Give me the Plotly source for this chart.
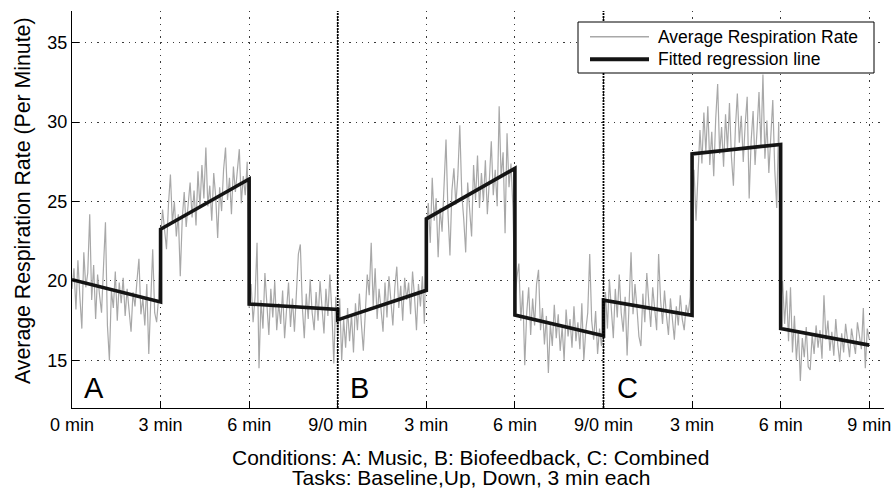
import numpy as np
import plotly.graph_objects as go

# ---------------- data ----------------
# Average respiration rate, one sample every 4 s (1/15 min); 3-min blocks
a_baseline = [19.5, 20.8, 18.2, 21.3, 19.0, 17.0, 21.8, 19.6, 20.5, 24.2, 18.8, 21.0, 17.6, 20.4, 19.1,
              18.0, 20.9, 23.7, 17.2, 15.0, 19.4, 18.3, 20.6, 17.5, 19.9, 18.6, 20.2, 17.8, 19.5, 18.1,
              16.8, 19.3, 18.4, 20.0, 21.4, 17.9, 18.9, 17.2, 19.8, 15.4, 18.6, 22.0, 18.0, 17.4, 19.0]
a_up = [22.5, 24.5, 23.0, 22.0, 24.8, 26.7, 23.6, 25.0, 22.8, 24.2, 20.3, 23.9, 25.6, 23.4, 24.8,
        26.2, 24.0, 25.7, 23.5, 26.9, 24.6, 27.3, 25.2, 28.4, 24.7, 26.0, 23.8, 26.8, 25.3, 22.7,
        25.9, 24.4, 27.0, 28.4, 25.1, 26.5, 24.2, 27.2, 25.6, 26.9, 28.3, 24.9, 26.6, 25.4, 27.5]
a_down = [18.3, 19.8, 17.4, 19.0, 22.4, 14.5, 18.8, 17.0, 20.5, 18.1, 16.6, 19.5, 17.7, 20.0, 16.9,
          18.6, 17.3, 19.4, 16.4, 18.2, 19.9, 17.1, 18.9, 16.8, 19.6, 21.7, 22.3, 18.4, 16.4, 19.2,
          17.6, 20.1, 18.0, 16.9, 19.3, 17.5, 20.0, 18.2, 16.7, 19.5, 17.8, 20.4, 18.1, 14.8, 19.0]
b_baseline = [16.5, 18.9, 15.0, 17.6, 15.8, 18.3, 16.2, 17.9, 15.5, 18.6, 16.9, 19.2, 17.3, 15.6, 18.0,
              20.4, 19.1, 22.4, 18.4, 20.8, 17.6, 19.5, 18.2, 16.8, 19.9, 17.7, 20.3, 18.5, 17.2, 19.6,
              20.9, 18.3, 19.7, 17.5, 20.2, 18.8, 19.9, 17.9, 20.6, 19.0, 16.9, 19.8, 18.4, 20.3, 17.3]
b_up = [23.2, 24.9, 22.4, 26.5, 23.8, 25.2, 21.5, 24.6, 23.1, 26.0, 28.9, 24.3, 21.6, 25.7, 27.1,
        24.8, 26.6, 29.8, 25.5, 23.9, 21.8, 26.2, 24.4, 22.8, 27.3, 25.1, 27.9, 24.6, 26.8, 25.0,
        27.6, 24.2, 26.3, 28.8, 25.4, 27.0, 24.7, 31.0, 26.5, 28.1, 23.0, 29.3, 25.9, 27.4, 24.6]
b_down = [18.8, 20.2, 21.1, 17.5, 19.4, 14.7, 18.0, 19.6, 16.6, 18.9, 17.2, 19.8, 20.7, 16.9, 18.3,
          16.0, 17.8, 14.2, 17.3, 15.9, 18.5, 16.4, 17.9, 15.6, 17.1, 15.0, 18.2, 16.5, 17.6, 15.8,
          18.4, 16.2, 17.4, 15.7, 18.6, 15.0, 16.9, 18.0, 21.7, 17.5, 16.3, 18.1, 15.4, 17.0, 15.9]
c_baseline = [17.6, 19.3, 17.0, 20.1, 18.2, 16.4, 19.5, 17.7, 20.4, 18.0, 16.8, 19.0, 15.3, 18.6, 21.8,
              17.9, 19.8, 18.3, 16.5, 15.9, 19.2, 17.4, 20.5, 18.7, 17.1, 19.6, 18.0, 16.9, 21.7, 18.8,
              17.3, 19.4, 17.8, 16.6, 18.9, 17.5, 16.3, 18.4, 17.2, 19.1, 17.6, 16.9, 18.5, 17.9, 19.0]
c_up = [24.5, 27.0, 23.8, 26.2, 29.5, 27.4, 30.6, 28.1, 31.0, 27.3, 29.4, 26.6, 30.2, 32.4, 28.0,
        29.7, 27.2, 30.5, 28.3, 31.2, 27.8, 26.0, 29.6, 31.8, 28.7, 30.4, 27.5, 29.9, 31.6, 25.2,
        28.8, 30.7, 27.3, 29.5, 31.9, 28.4, 33.0, 27.7, 30.1, 26.8, 29.3, 31.4, 27.0, 24.6, 30.0]
c_down = [18.5, 20.0, 17.3, 19.4, 16.2, 19.6, 15.5, 17.8, 15.0, 16.9, 13.7, 16.4, 15.2, 17.1, 14.6,
          14.4, 16.6, 15.4, 17.2, 15.8, 16.9, 15.1, 19.1, 16.3, 17.5, 15.6, 16.8, 15.3, 17.6, 16.0,
          14.9, 16.7, 15.5, 17.3, 16.1, 15.2, 17.0, 16.2, 15.4, 17.4, 16.5, 15.7, 18.3, 14.5, 17.0, 16.3]

# fitted regression line: value at start and end of each 3-min block
fit_start = [20.08, 23.26, 18.55, 17.55, 23.91, 17.85, 18.79, 28.00, 17.00]
fit_end = [18.68, 26.42, 18.20, 19.41, 27.09, 16.55, 17.84, 28.60, 15.96]

block_minutes = 3
samples_per_block = 15 * block_minutes
condition_bounds = [9, 18]
condition_letters = ["A", "B", "C"]
condition_letter_x = [0.73, 9.75, 18.8]

tick_minutes = [0, 3, 6, 9, 12, 15, 18, 21, 24, 27]
tick_labels = ["0 min", "3 min", "6 min", "9/0 min", "3 min", "6 min",
               "9/0 min", "3 min", "6 min", "9 min"]
y_ticks = [15, 20, 25, 30, 35]

xlabel_lines = ["Conditions: A: Music, B: Biofeedback, C: Combined",
                "Tasks: Baseline,Up, Down, 3 min each"]
ylabel = "Average Respiration Rate (Per Minute)"
legend_names = ["Average Respiration Rate", "Fitted regression line"]

# ---------------- build ----------------
blocks = [a_baseline, a_up, a_down, b_baseline, b_up, b_down, c_baseline, c_up, c_down]
resp = np.concatenate([np.array(b, dtype=float) for b in blocks])
t = np.arange(len(resp)) * (block_minutes / samples_per_block)

fx, fy = [], []
for i, (s, e) in enumerate(zip(fit_start, fit_end)):
    fx += [i * block_minutes, (i + 1) * block_minutes]
    fy += [s, e]

FONT = "Liberation Sans, Arial, Helvetica, sans-serif"
GRAY = "#a8a8a8"
BLACK = "#141414"

# plot-area geometry in pixels
L, R, T, B = 72, 884, 11, 408
def px(v): return (v - L) / (R - L)
def py(v): return (B - v) / (B - T)

fig = go.Figure()
fig.add_trace(go.Scatter(x=t, y=resp, mode="lines", name=legend_names[0],
                         line=dict(color=GRAY, width=1.2), showlegend=False))
fig.add_trace(go.Scatter(x=fx, y=fy, mode="lines", name=legend_names[1],
                         line=dict(color=BLACK, width=3.6), showlegend=False))

# condition separators
for xb in condition_bounds:
    fig.add_shape(type="line", xref="x", yref="paper", x0=xb, x1=xb, y0=0, y1=1,
                  line=dict(color="#000000", width=1.8, dash="2px,1px"), layer="above")

# condition letters
for lx, lt in zip(condition_letter_x, condition_letters):
    fig.add_annotation(x=lx, y=13.25, xref="x", yref="y", text=lt, showarrow=False,
                       xanchor="center", yanchor="middle",
                       font=dict(family=FONT, size=29, color="#000"))

# x label (two lines)
for txt, ys in zip(xlabel_lines, [-49, -69]):
    fig.add_annotation(x=13.5, y=0, xref="x", yref="paper", yshift=ys, text=txt,
                       showarrow=False, xanchor="center", yanchor="middle",
                       font=dict(family=FONT, size=21, color="#000"))

# y label
fig.add_annotation(x=px(23), y=py(201), xref="paper", yref="paper", text=ylabel,
                   textangle=-90, showarrow=False, xanchor="center", yanchor="middle",
                   font=dict(family=FONT, size=21.3, color="#000"))

# legend box (drawn in paper coordinates)
fig.add_shape(type="rect", xref="paper", yref="paper", x0=px(578), x1=px(874),
              y0=py(73), y1=py(22), line=dict(color="#000", width=1),
              fillcolor="white", layer="above")
for (ry, col, w, name) in [(36.7, GRAY, 1.5, legend_names[0]), (59.3, BLACK, 4, legend_names[1])]:
    fig.add_shape(type="line", xref="paper", yref="paper", x0=px(590), x1=px(649),
                  y0=py(ry), y1=py(ry), line=dict(color=col, width=w), layer="above")
    fig.add_annotation(x=px(656), y=py(ry), xref="paper", yref="paper", text=name,
                       showarrow=False, xanchor="left", yanchor="middle",
                       font=dict(family=FONT, size=17.5, color="#000"))

fig.update_layout(
    width=891, height=488,
    margin=dict(l=L, r=891 - R, t=T, b=488 - B, autoexpand=False),
    paper_bgcolor="white", plot_bgcolor="white",
    font=dict(family=FONT, size=18, color="#000"),
    showlegend=False,
)
fig.update_xaxes(range=[0, 27.5], tickvals=tick_minutes, ticktext=tick_labels,
                 ticklabeloverflow="allow", automargin=False,
                 showline=True, linecolor="#000", linewidth=1, mirror=False,
                 ticks="inside", ticklen=7, tickcolor="#000", tickwidth=1,
                 showgrid=True, gridcolor="#3a3a3a", gridwidth=1, griddash="1.3px,5px",
                 zeroline=False, tickfont=dict(size=18, family=FONT, color="#000"))
fig.update_yaxes(range=[12, 37], tickvals=y_ticks, automargin=False,
                 showline=True, linecolor="#000", linewidth=1, mirror=False,
                 ticks="inside", ticklen=7, tickcolor="#000", tickwidth=1,
                 showgrid=True, gridcolor="#3a3a3a", gridwidth=1, griddash="1.3px,5px",
                 zeroline=False, tickfont=dict(size=18, family=FONT, color="#000"))

fig.write_html("out.html")
